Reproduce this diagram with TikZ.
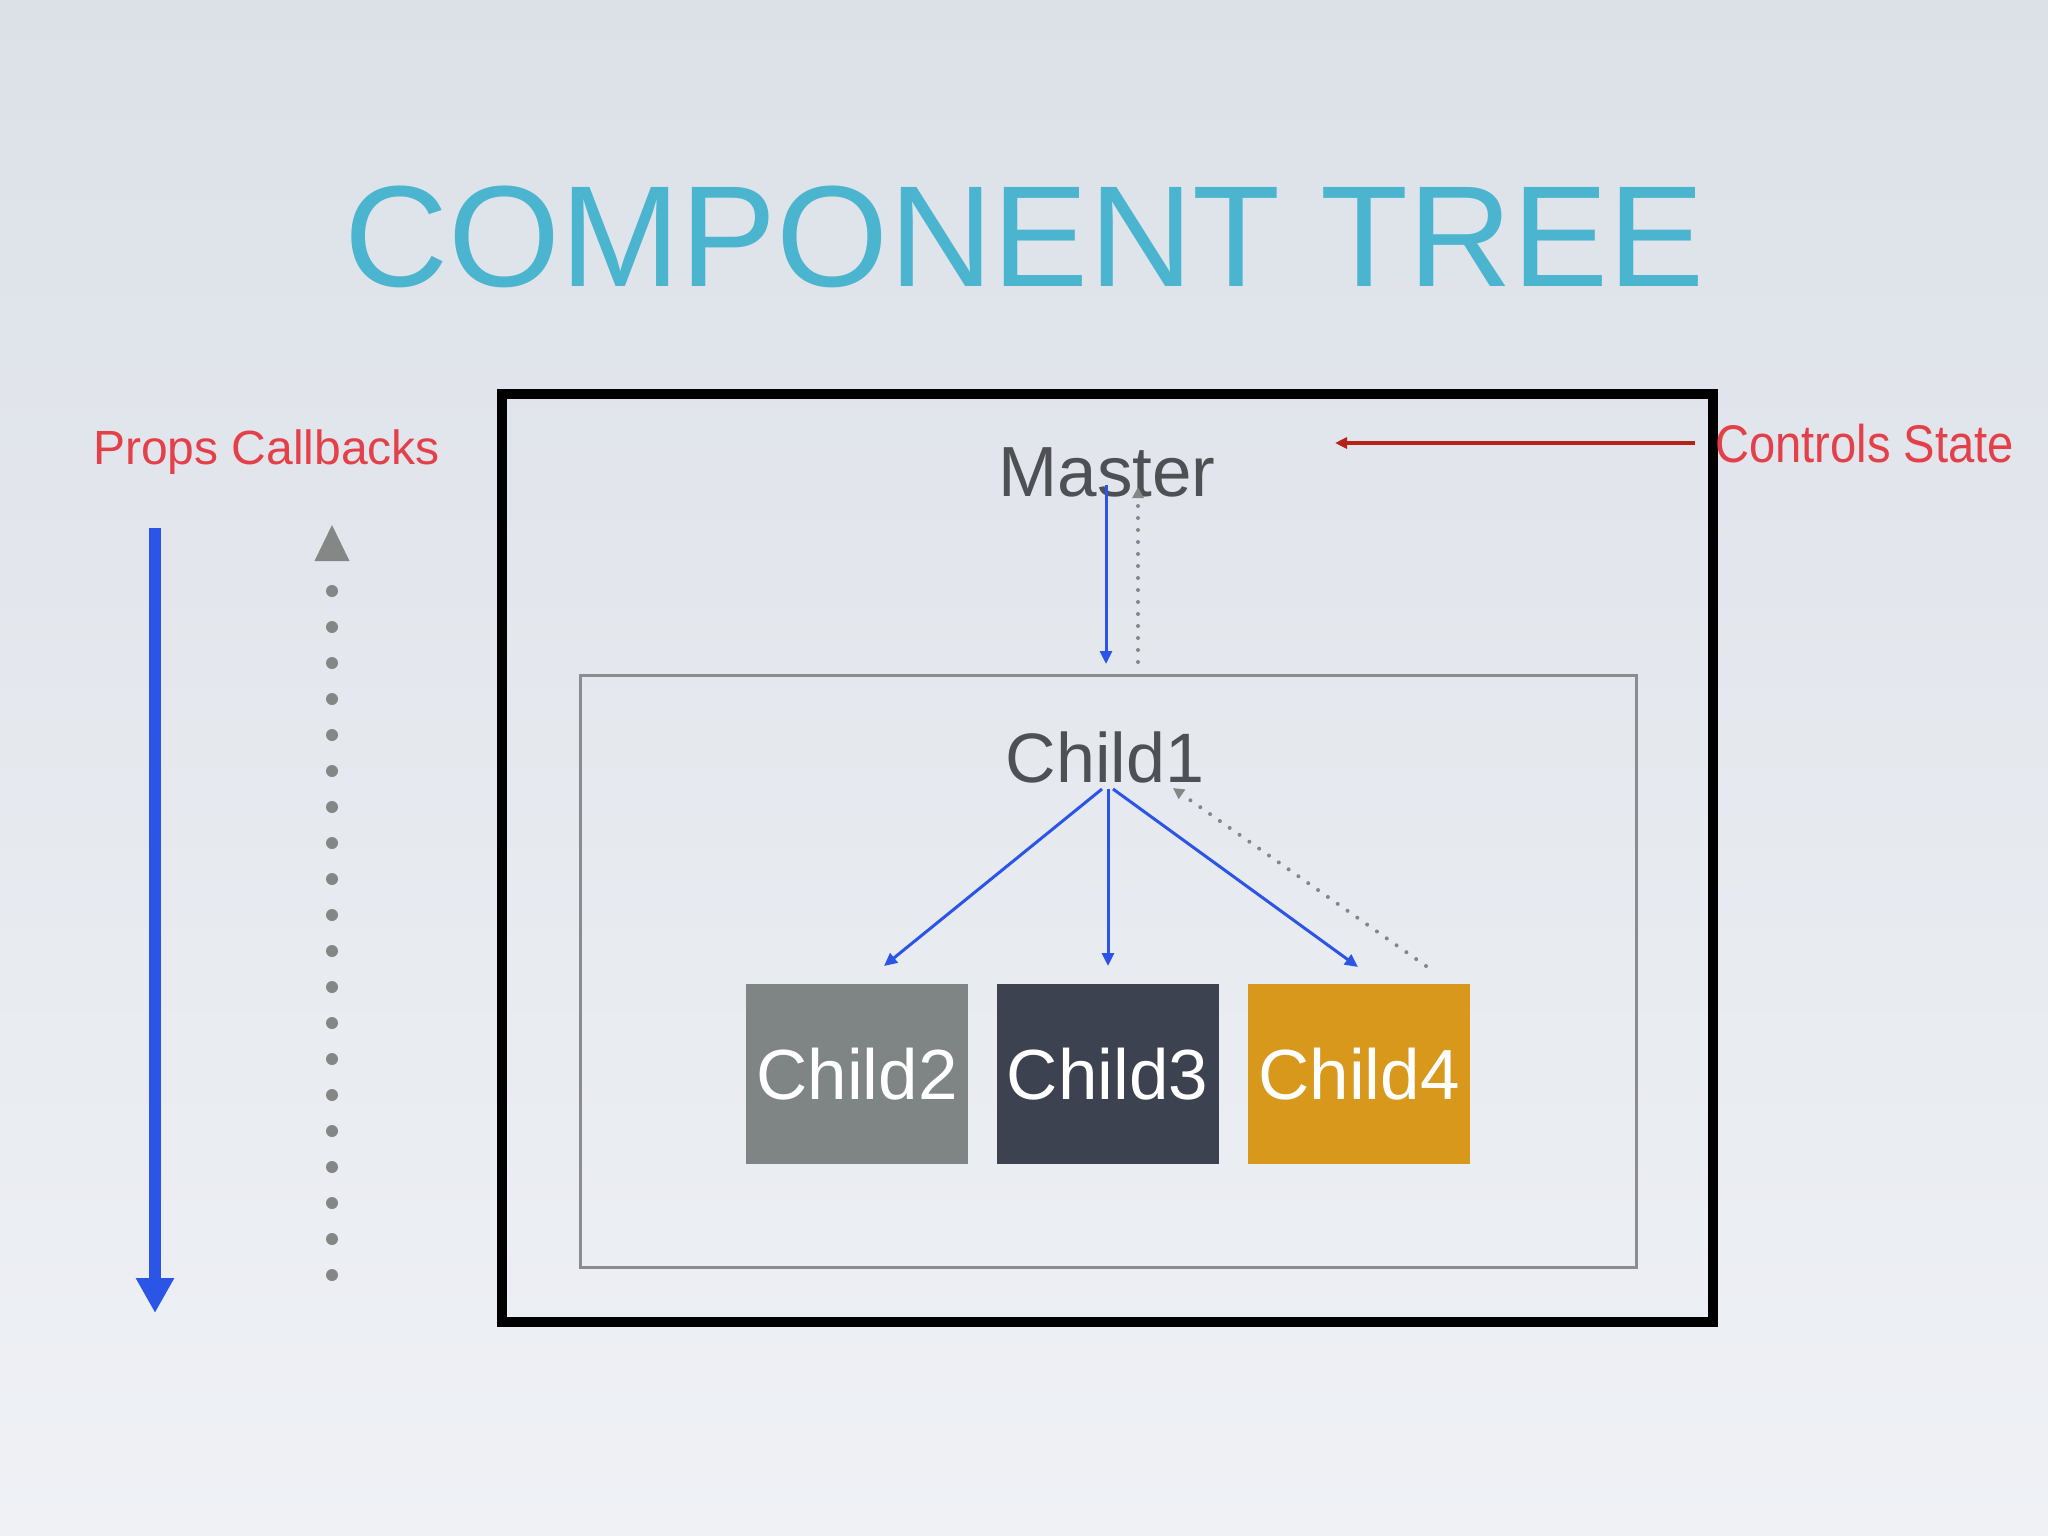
\documentclass[tikz,border=0pt]{standalone}
\usepackage{fontspec}
\setmainfont{Liberation Sans}
\newfontfamily\condfont[FakeStretch=0.89]{Liberation Sans}
\usetikzlibrary{arrows.meta}
\definecolor{bgtop}{HTML}{DCE1E8}
\definecolor{bgbot}{HTML}{EFF1F5}
\definecolor{titlec}{HTML}{4BB4CF}
\definecolor{redtxt}{HTML}{E3404A}
\definecolor{redarr}{HTML}{B52218}
\definecolor{blu}{HTML}{2B55E6}
\definecolor{dotg}{HTML}{858787}
\definecolor{txtg}{HTML}{4E5054}
\definecolor{cc2}{HTML}{7F8585}
\definecolor{cc3}{HTML}{3D4250}
\definecolor{cc4}{HTML}{D8981C}
\definecolor{innerg}{HTML}{8A8C90}
\tikzset{
  lbl/.style={inner sep=0pt, anchor=base},
  childbox/.style={minimum width=222pt, minimum height=180pt, inner sep=0pt,
    text=white, font=\fontsize{71}{75}\selectfont},
  bluearr/.style={draw=blu, line width=3pt, -{Triangle[length=13pt,width=12pt]}},
  dotarr/.style={draw=dotg, line width=4pt, line cap=round, dash pattern=on 0pt off 12pt,
    -{Triangle[length=11pt,width=11pt,fill=dotg]}},
}
\begin{document}
\begin{tikzpicture}[x=1pt,y=-1pt]
\useasboundingbox (0,0) rectangle (2048,1536);
\shade[top color=bgtop, bottom color=bgbot] (0,0) rectangle (2048,1536);

% title
\node[lbl, font=\fontsize{144}{150}\selectfont, text=titlec] (title) at (1025,286) {COMPONENT TREE};

% boxes
\node[draw=black, line width=10pt, minimum width=1211pt, minimum height=928pt, inner sep=0pt] (outer) at (1107.5,858) {};
\node[draw=innerg, line width=3pt, minimum width=1056pt, minimum height=592pt, inner sep=0pt] (inner) at (1108,971) {};

% texts
\node[lbl, font=\fontsize{71}{75}\selectfont, text=txtg] (master) at (1107,496) {Master};
\node[lbl, font=\fontsize{70}{74}\selectfont, text=txtg] (child1) at (1105,782) {Child1};

\node[childbox, fill=cc2] (child2) at (857,1074) {Child2};
\node[childbox, fill=cc3] (child3) at (1107.5,1074) {Child3};
\node[childbox, fill=cc4] (child4) at (1359,1074) {Child4};

\node[lbl, anchor=base west, font=\fontsize{48}{52}\selectfont, text=redtxt] (props) at (93,464) {Props Callbacks};
\node[lbl, anchor=base west, font=\condfont\fontsize{53}{56}\selectfont, text=redtxt] (ctrl) at (1715,462) {Controls State};

% anchor points for connectors
\coordinate (mOut) at (1106,485);
\coordinate (c1In) at (1106,664);
\coordinate (c1Up) at (1138,662);
\coordinate (mIn) at (1138,487);
\coordinate (c1L) at (1102,789);
\coordinate (c1M) at (1108,789);
\coordinate (c1R) at (1113,789);
\coordinate (c2In) at (884,966);
\coordinate (c3In) at (1108,966);
\coordinate (c4In) at (1358,967);
\coordinate (c4Out) at (1426,966);
\coordinate (c1Back) at (1173,788);
\coordinate (ctrlStart) at (1695,443);
\coordinate (ctrlEnd) at (1335,443);

% connectors
\draw[bluearr] (mOut) -- (c1In);
\draw[dotarr] (c1Up) -- (mIn);
\draw[bluearr] (c1L) -- (c2In);
\draw[bluearr] (c1M) -- (c3In);
\draw[bluearr] (c1R) -- (c4In);
\draw[dotarr] (c4Out) -- (c1Back);
\draw[draw=redarr, line width=4pt, -{Triangle[length=12pt,width=11pt]}] (ctrlStart) -- (ctrlEnd);

% legend arrows
\coordinate (propsTop) at (155,528);
\coordinate (propsBot) at (155,1313);
\draw[draw=blu, line width=12pt, -{Triangle[length=35pt,width=36pt]}] (propsTop) -- (propsBot);
\foreach \k in {0,...,19} \fill[dotg] (332,591+36*\k) circle (6pt);
\fill[dotg] (332,525) -- (349.5,561) -- (314.5,561) -- cycle;
\end{tikzpicture}
\end{document}
